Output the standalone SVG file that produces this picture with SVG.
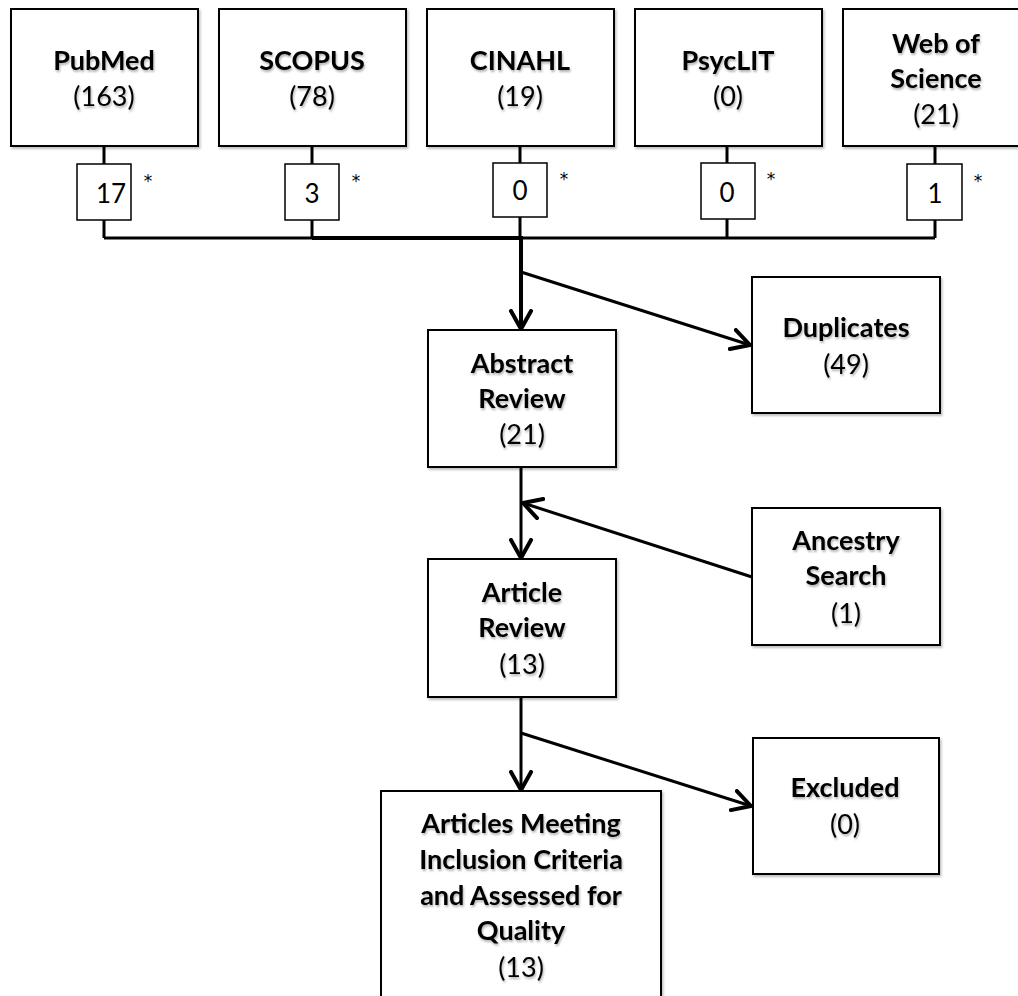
<svg xmlns="http://www.w3.org/2000/svg" width="1018" height="996" viewBox="0 0 1018 996">
<style>
.box{fill:#fff;stroke:#000;stroke-width:2;filter:url(#bs)}
.sbox{fill:#fff;stroke:#000;stroke-width:1.5}
.t{font-family:Lato,"Open Sans",sans-serif;font-size:27px;text-anchor:middle;fill:#000;filter:url(#ts)}
.b{font-weight:bold}
.n{font-family:Lato,"Open Sans",sans-serif;font-size:26px;text-anchor:middle;fill:#000}
.ast{font-family:"DejaVu Sans",sans-serif;font-size:17px;text-anchor:middle;fill:#000}
.ln{fill:none;stroke:#000;stroke-width:3}
.thick{fill:none;stroke:#000;stroke-width:4}
</style>
<defs>
<filter id="ts" x="-10%" y="-30%" width="120%" height="170%"><feDropShadow dx="1" dy="2" stdDeviation="1.2" flood-color="#000" flood-opacity="0.3"/></filter>
<filter id="bs" x="-5%" y="-5%" width="115%" height="115%"><feDropShadow dx="1.5" dy="2" stdDeviation="1.2" flood-color="#000" flood-opacity="0.25"/></filter>
<marker id="ah" viewBox="0 0 22 24" refX="20" refY="12" markerWidth="22" markerHeight="24" markerUnits="userSpaceOnUse" orient="auto">
<path d="M2,2 L20,12 L2,22" fill="none" stroke="#000" stroke-width="4" stroke-linecap="round" stroke-linejoin="round"/>
</marker>
</defs>
<g id="connectors">
<line class="ln" x1="104" y1="146" x2="104" y2="164"/>
<line class="ln" x1="104" y1="220" x2="104" y2="238"/>
<line class="ln" x1="312" y1="146" x2="312" y2="164"/>
<line class="ln" x1="312" y1="220" x2="312" y2="238"/>
<line class="ln" x1="520" y1="146" x2="520" y2="163"/>
<line class="ln" x1="520" y1="217" x2="520" y2="238"/>
<line class="ln" x1="727" y1="146" x2="727" y2="163"/>
<line class="ln" x1="727" y1="217" x2="727" y2="238"/>
<line class="ln" x1="935" y1="146" x2="935" y2="164"/>
<line class="ln" x1="935" y1="220" x2="935" y2="238"/>
<polyline class="ln" points="104,238 935,238"/>
<line class="thick" x1="312" y1="238" x2="521" y2="238"/>
<line class="thick" x1="521" y1="236" x2="521" y2="329" marker-end="url(#ah)"/>
<line class="ln" x1="521" y1="272" x2="750" y2="345" marker-end="url(#ah)"/>
<line class="ln" x1="521" y1="467" x2="521" y2="558" marker-end="url(#ah)"/>
<line class="ln" x1="752" y1="577" x2="523" y2="503" marker-end="url(#ah)"/>
<line class="ln" x1="521" y1="697" x2="521" y2="790" marker-end="url(#ah)"/>
<line class="ln" x1="521" y1="733" x2="751" y2="806" marker-end="url(#ah)"/>
</g>
<g id="pubmed">
<rect class="box" x="11" y="9" width="187" height="137"/>
<text class="t b" x="104" y="70">PubMed</text>
<text class="t" x="104" y="106">(163)</text>
</g>
<g id="scopus">
<rect class="box" x="219" y="9" width="187" height="137"/>
<text class="t b" x="312" y="70">SCOPUS</text>
<text class="t" x="312" y="106">(78)</text>
</g>
<g id="cinahl">
<rect class="box" x="427" y="9" width="187" height="137"/>
<text class="t b" x="520" y="70">CINAHL</text>
<text class="t" x="520" y="106">(19)</text>
</g>
<g id="psyclit">
<rect class="box" x="635" y="9" width="187" height="137"/>
<text class="t b" x="728" y="70">PsycLIT</text>
<text class="t" x="728" y="106">(0)</text>
</g>
<g id="wos">
<rect class="box" x="843" y="9" width="187" height="137"/>
<text class="t b" x="936" y="53">Web of</text>
<text class="t b" x="936" y="88">Science</text>
<text class="t" x="936" y="124">(21)</text>
</g>
<g id="n17">
<rect class="sbox" x="77" y="164" width="54" height="56"/>
<text class="n" x="111" y="203">17</text>
<text class="ast" x="148" y="187">*</text>
</g>
<g id="n3">
<rect class="sbox" x="285" y="164" width="54" height="56"/>
<text class="n" x="312" y="203">3</text>
<text class="ast" x="356" y="187">*</text>
</g>
<g id="n0a">
<rect class="sbox" x="493" y="163" width="54" height="54"/>
<text class="n" x="520" y="200">0</text>
<text class="ast" x="564" y="185">*</text>
</g>
<g id="n0b">
<rect class="sbox" x="701" y="163" width="54" height="56"/>
<text class="n" x="727" y="202">0</text>
<text class="ast" x="771" y="185">*</text>
</g>
<g id="n1">
<rect class="sbox" x="907" y="164" width="55" height="56"/>
<text class="n" x="935" y="203">1</text>
<text class="ast" x="978" y="187">*</text>
</g>
<g id="abstract">
<rect class="box" x="428" y="330" width="188" height="137"/>
<text class="t b" x="522" y="373">Abstract</text>
<text class="t b" x="522" y="408">Review</text>
<text class="t" x="522" y="444">(21)</text>
</g>
<g id="duplicates">
<rect class="box" x="752" y="277" width="188" height="136"/>
<text class="t b" x="846" y="337">Duplicates</text>
<text class="t" x="846" y="374">(49)</text>
</g>
<g id="ancestry">
<rect class="box" x="752" y="508" width="188" height="137"/>
<text class="t b" x="846" y="550">Ancestry</text>
<text class="t b" x="846" y="585">Search</text>
<text class="t" x="846" y="623">(1)</text>
</g>
<g id="article">
<rect class="box" x="428" y="559" width="188" height="138"/>
<text class="t b" x="522" y="602">Article</text>
<text class="t b" x="522" y="637">Review</text>
<text class="t" x="522" y="674">(13)</text>
</g>
<g id="excluded">
<rect class="box" x="753" y="738" width="186" height="136"/>
<text class="t b" x="845" y="797">Excluded</text>
<text class="t" x="845" y="834">(0)</text>
</g>
<g id="final">
<rect class="box" x="381" y="791" width="280" height="230"/>
<text class="t b" x="521" y="833">Articles Meeting</text>
<text class="t b" x="521" y="869">Inclusion Criteria</text>
<text class="t b" x="521" y="905">and Assessed for</text>
<text class="t b" x="521" y="940">Quality</text>
<text class="t" x="521" y="977">(13)</text>
</g>
</svg>
